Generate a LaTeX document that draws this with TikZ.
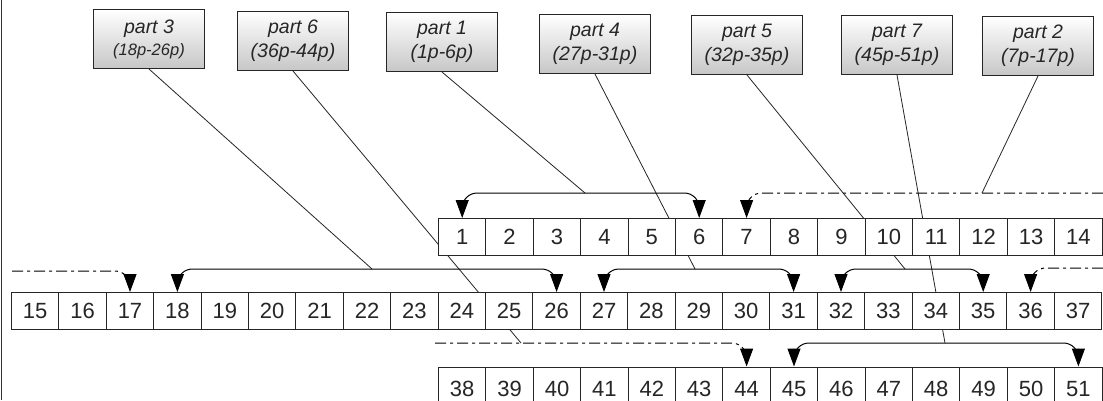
\documentclass[tikz,border=0pt]{standalone}
\usepackage{fontspec}
\setmainfont{Liberation Sans}
\usetikzlibrary{arrows.meta}
\begin{document}
\begin{tikzpicture}[x=1pt,y=-1pt,
  >={Triangle[length=18pt,width=13pt]},
  cell/.style={draw=black!85, line width=1pt, fill=white, minimum width=47.4pt,
    minimum height=37pt, inner sep=0pt, anchor=north west,
    font=\fontsize{22}{22}\selectfont, text=black!85},
  partbox/.style={draw=black!85, line width=1pt, top color=white, bottom color=black!22,
    minimum width=111pt, minimum height=59pt, inner sep=0pt, anchor=north west,
    align=center, font=\itshape\fontsize{19.5}{24}\selectfont, text=black!85},
  conn/.style={line width=0.8pt, draw=black!85},
  brk/.style={line width=1pt, draw=black, rounded corners=15pt},
  dd/.style={dash pattern=on 11pt off 4pt on 3pt off 4pt}
]
\useasboundingbox (0,0) rectangle (1103,400);
\fill[white] (0,0) rectangle (1103,400);
\draw[line width=1.2pt, black!80] (1.5,0) -- (1.5,400);

% part boxes
\node[partbox] (p3) at (93,9)   {part 3\\[-2pt]{\fontsize{16.5}{18}\selectfont(18p-26p)}};
\node[partbox] (p6) at (237,11) {part 6\\(36p-44p)};
\node[partbox] (p1) at (386,12) {part 1\\(1p-6p)};
\node[partbox] (p4) at (539,14) {part 4\\(27p-31p)};
\node[partbox] (p5) at (691,15) {part 5\\(32p-35p)};
\node[partbox] (p7) at (841,15) {part 7\\(45p-51p)};
\node[partbox] (p2) at (982,16) {part 2\\(7p-17p)};

% end points of part connectors
\coordinate (e3) at (372,269);
\coordinate (e6) at (521,343);
\coordinate (e1) at (585,193);
\coordinate (e4) at (695,269);
\coordinate (e5) at (905,269);
\coordinate (e7) at (945,343);
\coordinate (e2) at (982,193);

\draw[conn] (p3.south) -- (e3);
\draw[conn] (p6.south) -- (e6);
\draw[conn] (p1.south) -- (e1);
\draw[conn] (p4.south) -- (e4);
\draw[conn] (p5.south) -- (e5);
\draw[conn] (p7.south) -- (e7);
\draw[conn] (p2.south) -- (e2);

% cells
\foreach \i in {1,...,14}  \node[cell] (c\i) at ({438+(\i-1)*47.4},218) {\i};
\foreach \i in {15,...,37} \node[cell] (c\i) at ({11+(\i-15)*47.4},292) {\i};
\foreach \i in {38,...,51} \node[cell, minimum height=44pt, text depth=0pt, yshift=-3.5pt] (c\i) at ({438+(\i-38)*47.4},363) {\i};

% free ends of dash-dot lines
\coordinate (r1) at (1103,193);
\coordinate (l2) at (12,271);
\coordinate (r2) at (1103,268);
\coordinate (l3) at (435,343);

% row 1
\draw[brk,<->] (c1.north) -- (c1.north |- e1) -- (c6.north |- e1) -- (c6.north);
\draw[brk,dd,->] (r1) -- (c7.north |- r1) -- (c7.north);
% row 2
\draw[brk,dd,->] (l2) -- (c17.north |- l2) -- (c17.north);
\draw[brk,<->] (c18.north) -- (c18.north |- e3) -- (c26.north |- e3) -- (c26.north);
\draw[brk,<->] (c27.north) -- (c27.north |- e4) -- (c31.north |- e4) -- (c31.north);
\draw[brk,<->] (c32.north) -- (c32.north |- e5) -- (c35.north |- e5) -- (c35.north);
\draw[brk,dd,->] (r2) -- (c36.north |- r2) -- (c36.north);
% row 3
\draw[brk,dd,->] (l3) -- (c44.north |- l3) -- (c44.north);
\draw[brk,<->] (c45.north) -- (c45.north |- e7) -- (c51.north |- e7) -- (c51.north);
\end{tikzpicture}
\end{document}
